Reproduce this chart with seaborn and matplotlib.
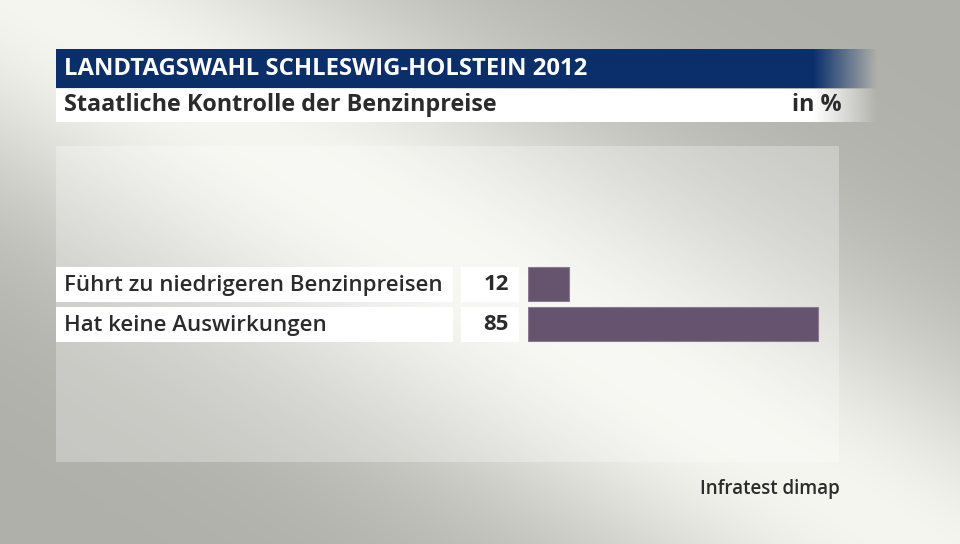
import numpy as np
import pandas as pd
import matplotlib
matplotlib.use("Agg")
import matplotlib.pyplot as plt
import seaborn as sns
from matplotlib.patches import Rectangle

# Daten
kategorien = ["Führt zu niedrigeren Benzinpreisen", "Hat keine Auswirkungen"]
werte = [12, 85]
titel = "LANDTAGSWAHL SCHLESWIG-HOLSTEIN 2012"
untertitel = "Staatliche Kontrolle der Benzinpreise"
einheit = "in %"
quelle = "Infratest dimap"

sns.set_style("white")
plt.rcParams['font.family'] = ['Open Sans', 'DejaVu Sans']

W, H = 960, 544
fig = plt.figure(figsize=(9.6, 5.44), dpi=100)

# Hintergrund (Pixelkoordinaten, y nach unten)
bg = fig.add_axes([0, 0, 1, 1])
bg.set_xlim(0, W)
bg.set_ylim(H, 0)
bg.axis("off")

yy, xx = np.mgrid[0:H, 0:W]
s = (-(0.62) * (xx - 520) + (yy - 300)) / np.sqrt(1 + 0.62 ** 2)
v = 176 + 70 * np.exp(-(s / 190) ** 2)
rgb = np.dstack([v, v, v - 6]) / 255.0
bg.imshow(np.clip(rgb, 0, 1), extent=[0, W, H, 0], aspect="auto", zorder=0)

# helleres Feld hinter dem Diagramm
bg.add_patch(Rectangle((56, 146), 783, 316, facecolor="white", alpha=0.28,
                       edgecolor="none", zorder=1))

# Kopfzeile mit Ausblendung nach rechts
def band(farbe, y0, y1):
    x = np.arange(56, 880)
    alpha = np.clip((877 - x) / (877 - 813), 0, 1)
    arr = np.zeros((1, len(x), 4))
    arr[..., :3] = matplotlib.colors.to_rgb(farbe)
    arr[..., 3] = alpha
    bg.imshow(arr, extent=[56, 880, y1, y0], aspect="auto", zorder=2,
              interpolation="bilinear")

band("#0a2f6b", 49, 88)
band("#ffffff", 89, 122)

bg.text(64, 69, titel, color="white", fontsize=17.2, fontweight="bold",
        va="center", ha="left", zorder=5)
bg.text(64, 105, untertitel, color="#2b2b2b", fontsize=16.8, fontweight="bold",
        va="center", ha="left", zorder=5)
bg.text(842, 105, einheit, color="#2b2b2b", fontsize=16.8, fontweight="bold",
        va="center", ha="right", zorder=5)
bg.text(840, 489, quelle, color="#2b2b2b", fontsize=13.5, fontweight="semibold",
        va="center", ha="right", zorder=5)

# Beschriftungsfelder
zeilen_y = [267, 307]
for i, (kat, wert) in enumerate(zip(kategorien, werte)):
    y0 = zeilen_y[i]
    bg.add_patch(Rectangle((56, y0), 397, 35, facecolor="white",
                           edgecolor="none", zorder=3))
    bg.add_patch(Rectangle((461, y0), 58, 35, facecolor="white",
                           edgecolor="none", zorder=3))
    bg.text(64, y0 + 18, kat, color="#2b2b2b", fontsize=16, fontweight="semibold",
            va="center", ha="left", zorder=5)
    bg.text(509, y0 + 18, str(wert), color="#2b2b2b", fontsize=16,
            fontweight="bold", va="center", ha="right", zorder=5)

# Balken
df = pd.DataFrame({"kategorie": kategorien, "wert": werte})
ax = fig.add_axes([528 / W, (H - 344) / H, 341 / W, 80 / H])
ax.patch.set_alpha(0)
sns.barplot(data=df, x="wert", y="kategorie", orient="h", color="#66546f",
            saturation=1, width=0.85, edgecolor="#8a7b90", linewidth=0.8, ax=ax)
ax.set_xlim(0, 100)
ax.set_ylim(1.5, -0.5)
ax.axis("off")

fig.savefig("out.png", dpi=100)
